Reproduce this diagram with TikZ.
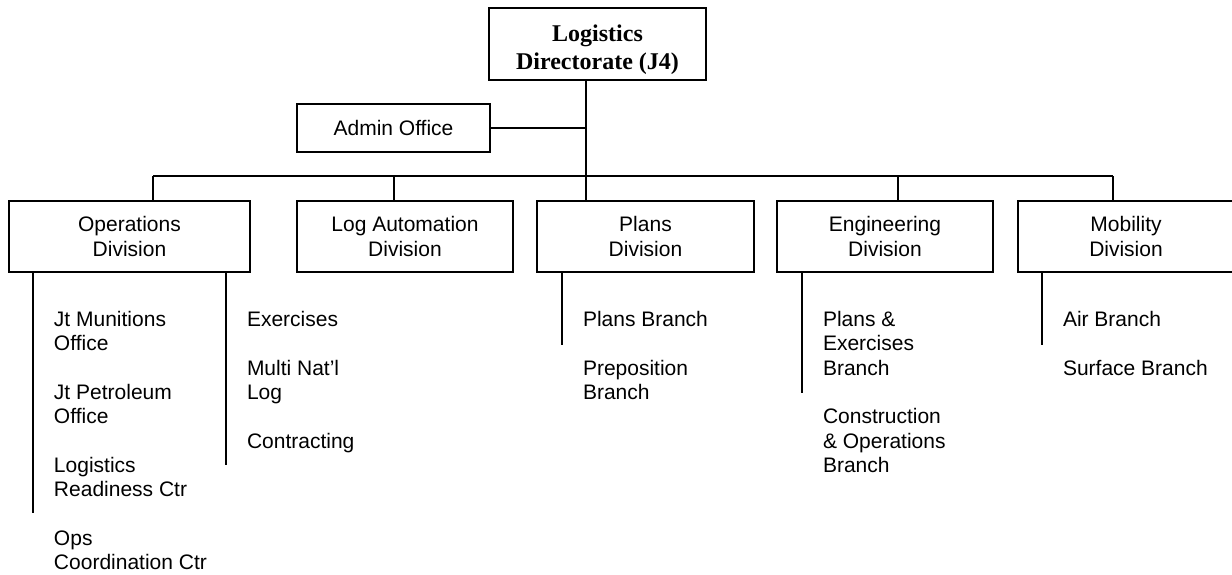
\documentclass[tikz,border=0pt]{standalone}
\usepackage{fontspec}
\setmainfont{Liberation Sans}
\newfontfamily\timesfont{Liberation Serif}
\begin{document}
\begin{tikzpicture}[x=0.5pt,y=-0.5pt,line width=1pt,
  box/.style={draw,line width=1pt,inner sep=0pt,align=center,font=\fontsize{10.5pt}{12.15pt}\selectfont,minimum height=35.5pt},
  topbox/.style={draw,line width=1pt,inner sep=0pt,align=center,font=\timesfont\bfseries\fontsize{12pt}{14pt}\selectfont,text height=25pt,text depth=0pt},
  item/.style={anchor=base west,inner sep=0pt,align=left,font=\fontsize{10.5pt}{12.15pt}\selectfont}]
\useasboundingbox (0,0) rectangle (1232,574);
% boxes
\node[topbox,minimum width=108.5pt,minimum height=36pt] (top) at (597.5,44) {Logistics\\Directorate (J4)};
\node[box,minimum width=96.5pt,minimum height=24pt] (admin) at (393.5,128) {Admin Office};
\node[box,minimum width=120.5pt] (ops) at (129.5,236.5) {Operations\\Division};
\node[box,minimum width=108pt] (loga) at (405,236.5) {Log Automation\\Division};
\node[box,minimum width=108.5pt] (plans) at (645.5,236.5) {Plans\\Division};
\node[box,minimum width=108pt] (eng) at (885,236.5) {Engineering\\Division};
\node[box,minimum width=108pt] (mob) at (1126,236.5) {Mobility\\Division};
% junctions
\coordinate (jA) at (586,128);
\coordinate (jB) at (586,176);
\coordinate (bOps) at (153,176);
\coordinate (bLog) at (394,176);
\coordinate (bPl) at (586,176);
\coordinate (bEng) at (898,176);
\coordinate (bMob) at (1113,176);
\draw (top.south -| jB) -- (jB);
\draw (admin.east) -- (jA);
\draw (bOps) -- (bMob);
\draw (bOps) -- (ops.north -| bOps);
\draw (bLog) -- (loga.north -| bLog);
\draw (bPl) -- (plans.north -| bPl);
\draw (bEng) -- (eng.north -| bEng);
\draw (bMob) -- (mob.north -| bMob);
% branch lines
\coordinate (oL) at (33,513);
\coordinate (oR) at (226,465);
\coordinate (pL) at (562,345);
\coordinate (eL) at (802,393);
\coordinate (mL) at (1042,345);
\draw (ops.south -| oL) -- (oL);
\draw (ops.south -| oR) -- (oR);
\draw (plans.south -| pL) -- (pL);
\draw (eng.south -| eL) -- (eL);
\draw (mob.south -| mL) -- (mL);
% branch items (base anchor = baseline of last line)
\node[item] (o1) at (53,350.8) {Jt Munitions\\Office};
\node[item] (o2) at (53,423.7) {Jt Petroleum\\Office};
\node[item] (o3) at (53,496.6) {Logistics\\Readiness Ctr};
\node[item] (o4) at (53,569.5) {Ops\\Coordination Ctr};
\node[item] (r1) at (246,326.5) {Exercises};
\node[item] (r2) at (246,399.4) {Multi Nat’l\\Log};
\node[item] (r3) at (246,448) {Contracting};
\node[item] (p1) at (582,326.5) {Plans Branch};
\node[item] (p2) at (582,399.4) {Preposition\\Branch};
\node[item] (e1) at (822,375.1) {Plans \&\\Exercises\\Branch};
\node[item] (e2) at (822,472.3) {Construction\\\& Operations\\Branch};
\node[item] (m1) at (1062,326.5) {Air Branch};
\node[item] (m2) at (1062,375.1) {Surface Branch};
\end{tikzpicture}
\end{document}
